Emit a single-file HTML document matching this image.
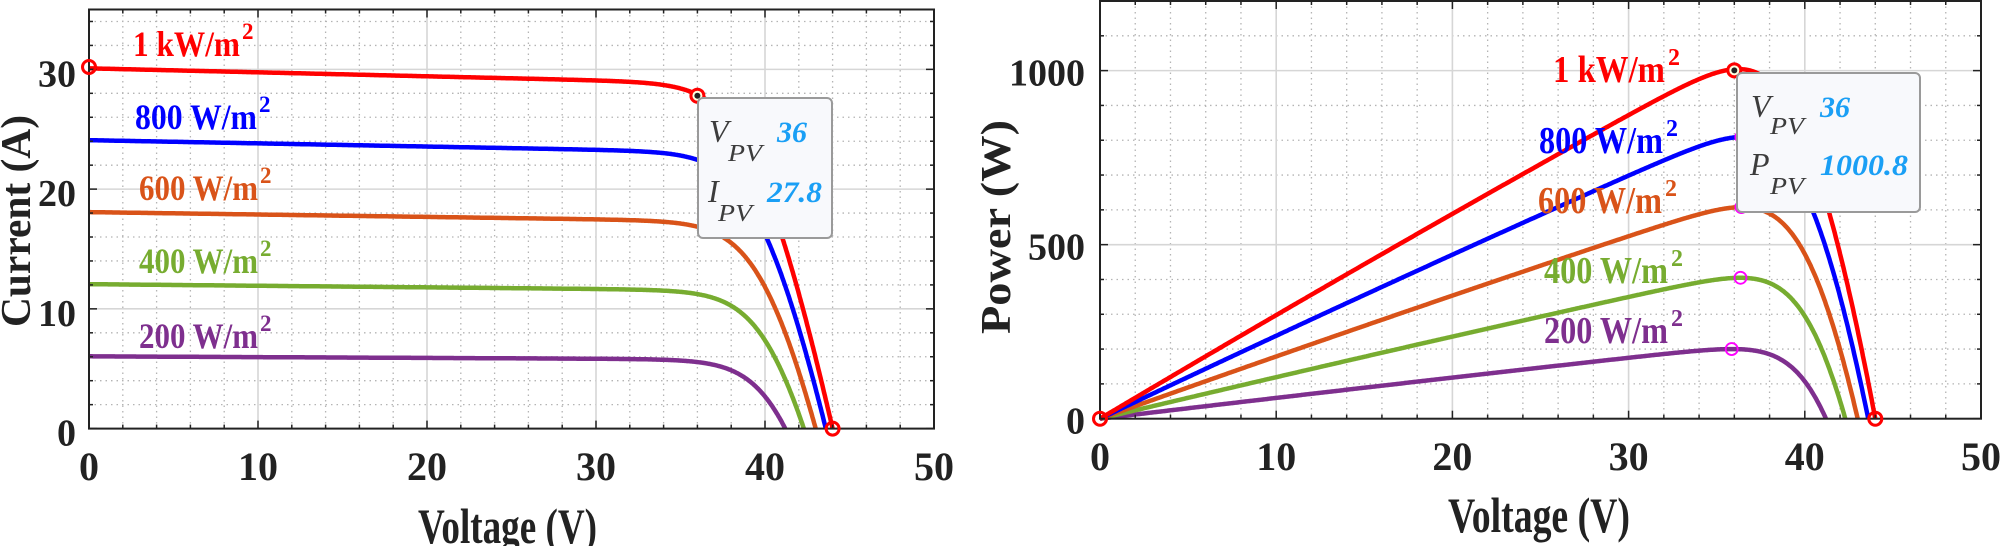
<!DOCTYPE html>
<html><head><meta charset="utf-8"><style>
html,body{margin:0;padding:0;background:#fff;}
svg{display:block;}
text{font-family:"Liberation Serif",serif;}
</style></head><body>
<svg id="s" width="2000" height="546" viewBox="0 0 2000 546" xmlns="http://www.w3.org/2000/svg"></svg>
<script>
var S=document.getElementById('s');var out='';
function line(x1,y1,x2,y2,st){out+='<line x1="'+x1+'" y1="'+y1+'" x2="'+x2+'" y2="'+y2+'" '+st+'/>';}
function txt(x,y,s,st){out+='<text x="'+x+'" y="'+y+'" '+st+'>'+s+'</text>';}
var Gs=[1,0.8,0.6,0.4,0.2],Vocs=[44,43.6,43,42.3,41.2];
var cols=['#ff0000','#0000ff','#d95319','#77ac30','#7e2f8e'];
var Vt=1.436,Rs=0.114;
function curve(k){var G=Gs[k],Isc=30.2*G,Rsh=30/G,Voc=Vocs[k];
 var I0=(Isc-Voc/Rsh)/(Math.exp(Voc/Vt)-1);var pts=[];
 for(var V=0;V<=Voc+1e-9;V+=0.05){var lo=-5,hi=Isc+1;
  for(var it=0;it<60;it++){var I=(lo+hi)/2;var vd=V+I*Rs;var f=Isc-I0*(Math.exp(vd/Vt)-1)-vd/Rsh-I;if(f>0)lo=I;else hi=I;}
  pts.push([V,Math.max(0,(lo+hi)/2)]);}
 pts.push([Voc,0]);return pts;}
var data=[];for(var k=0;k<5;k++)data.push(curve(k));
function axes(L,R,T,B,xmax,ymax,ymaj,ymin){
 var sx=function(v){return L+(R-L)*v/xmax},sy=function(v){return B-(B-T)*v/ymax};
 for(var v=0;v<=xmax;v+=2){var x=sx(v);if(v%10)line(x,T,x,B,'stroke="#b4b4b4" stroke-width="1.3" stroke-dasharray="1.5 4"');}
 for(var v=0;v<=ymax+1e-9;v+=ymin){var y=sy(v);if(Math.abs(v/ymaj-Math.round(v/ymaj))>1e-6)line(L,y,R,y,'stroke="#b4b4b4" stroke-width="1.3" stroke-dasharray="1.5 4"');}
 for(var v=10;v<xmax;v+=10){var x=sx(v);line(x,T,x,B,'stroke="#d6d6d6" stroke-width="1.6"');}
 for(var v=ymaj;v<ymax;v+=ymaj){var y=sy(v);line(L,y,R,y,'stroke="#d6d6d6" stroke-width="1.6"');}
 return [sx,sy];}
function frame(L,R,T,B,xmax,ymax,ymaj,ymin,sx,sy){
 for(var v=0;v<=xmax;v+=2){var x=sx(v),l=(v%10)?4:8;line(x,B,x,B-l,'stroke="#222" stroke-width="1.5"');line(x,T,x,T+l,'stroke="#222" stroke-width="1.5"');}
 for(var v=0;v<=ymax+1e-9;v+=ymin){var y=sy(v),mj=Math.abs(v/ymaj-Math.round(v/ymaj))<1e-6,l=mj?8:4;line(L,y,L+l,y,'stroke="#222" stroke-width="1.5"');line(R,y,R-l,y,'stroke="#222" stroke-width="1.5"');}
 out+='<rect x="'+L+'" y="'+T+'" width="'+(R-L)+'" height="'+(B-T)+'" fill="none" stroke="#222" stroke-width="2"/>';}
function poly(pts,sx,sy,f,c){var d='';pts.forEach(function(p,i){d+=(i?'L':'M')+sx(p[0]).toFixed(1)+' '+sy(f(p)).toFixed(1);});
 out+='<path d="'+d+'" fill="none" stroke="'+c+'" stroke-width="4.5" stroke-linejoin="round"/>';}
var B='font-weight="bold"';
var SUB='font-style="italic" font-size="24" fill="#3c3c3c" textLength="34" lengthAdjust="spacingAndGlyphs"';
/* LEFT */
var L1=89,R1=934,T1=9.5,B1=428.6;
var a=axes(L1,R1,T1,B1,50,35,10,2),sx=a[0],sy=a[1];
for(var k=4;k>=0;k--)poly(data[k],sx,sy,function(p){return p[1]},cols[k]);
frame(L1,R1,T1,B1,50,35,10,2,sx,sy);
out+='<circle cx="'+sx(0)+'" cy="'+sy(30.2)+'" r="6.5" fill="none" stroke="#f00" stroke-width="3"/>';
out+='<circle cx="'+sx(44)+'" cy="'+sy(0)+'" r="6.5" fill="none" stroke="#f00" stroke-width="3"/>';
out+='<circle cx="'+sx(36)+'" cy="'+sy(27.8)+'" r="6.5" fill="#ffffe0" stroke="#f00" stroke-width="3"/><circle cx="'+sx(36)+'" cy="'+sy(27.8)+'" r="3" fill="#222"/>';
out+='<rect x="698" y="98" width="134" height="140" rx="5" fill="#f8f9fc" stroke="#9a9a9a" stroke-width="2"/>';
txt(709,142,'V','font-style="italic" font-size="32" fill="#3c3c3c"');txt(728,161,'PV',SUB);
txt(777,142,'36','font-style="italic" '+B+' font-size="30" fill="#1a9ff5"');
txt(708,202,'I','font-style="italic" font-size="32" fill="#3c3c3c"');txt(718,221,'PV',SUB);
txt(767,202,'27.8','font-style="italic" '+B+' font-size="30" fill="#1a9ff5" textLength="55" lengthAdjust="spacingAndGlyphs"');
[0,10,20,30].forEach(function(v){txt(76,sy(v)+17,v,B+' font-size="38" fill="#222" text-anchor="end"');});
[0,10,20,30,40,50].forEach(function(v){txt(sx(v),480,v,B+' font-size="40" fill="#222" text-anchor="middle"');});
txt(418,543,'Voltage (V)',B+' font-size="50" fill="#222" textLength="179" lengthAdjust="spacingAndGlyphs"');
out+='<text transform="translate(30,327) rotate(-90)" '+B+' font-size="42" fill="#222" textLength="212" lengthAdjust="spacingAndGlyphs">Current (A)</text>';
var lab1=[['1 kW/m',133,56,107],['800 W/m',135,129,122],['600 W/m',139,200,119],['400 W/m',139,273,119],['200 W/m',139,348,119]];
lab1.forEach(function(l,k){txt(l[1],l[2],l[0],B+' font-size="36" fill="'+cols[k]+'" textLength="'+l[3]+'" lengthAdjust="spacingAndGlyphs"');txt(l[1]+l[3]+2,l[2]-17,'2',B+' font-size="23" fill="'+cols[k]+'"');});
/* RIGHT */
var L2=1100,R2=1981,T2=1,B2=418.7;
a=axes(L2,R2,T2,B2,50,1200,500,100);sx=a[0];sy=a[1];
for(var k=4;k>=0;k--)poly(data[k],sx,sy,function(p){return p[0]*p[1]},cols[k]);
frame(L2,R2,T2,B2,50,1200,500,100,sx,sy);
for(var k=1;k<5;k++){var best=[0,0];data[k].forEach(function(p){if(p[0]*p[1]>best[0]*best[1])best=p;});
 out+='<circle cx="'+sx(best[0])+'" cy="'+sy(best[0]*best[1])+'" r="6" fill="none" stroke="#ff00ff" stroke-width="1.8"/>';}
out+='<circle cx="'+sx(0)+'" cy="'+sy(0)+'" r="6.5" fill="none" stroke="#f00" stroke-width="3"/>';
out+='<circle cx="'+sx(44)+'" cy="'+sy(0)+'" r="6.5" fill="none" stroke="#f00" stroke-width="3"/>';
out+='<circle cx="'+sx(36)+'" cy="'+sy(1000.8)+'" r="6.5" fill="#ffffe0" stroke="#f00" stroke-width="3"/><circle cx="'+sx(36)+'" cy="'+sy(1000.8)+'" r="3" fill="#222"/>';
out+='<rect x="1737" y="73" width="183" height="139" rx="5" fill="#f8f9fc" stroke="#9a9a9a" stroke-width="2"/>';
txt(1751,117,'V','font-style="italic" font-size="32" fill="#3c3c3c"');txt(1770,134,'PV',SUB);
txt(1820,117,'36','font-style="italic" '+B+' font-size="30" fill="#1a9ff5"');
txt(1750,175,'P','font-style="italic" font-size="32" fill="#3c3c3c"');txt(1770,194,'PV',SUB);
txt(1820,175,'1000.8','font-style="italic" '+B+' font-size="30" fill="#1a9ff5" textLength="88" lengthAdjust="spacingAndGlyphs"');
[0,500,1000].forEach(function(v){txt(1085,sy(v)+15,v,B+' font-size="38" fill="#222" text-anchor="end"');});
[0,10,20,30,40,50].forEach(function(v){txt(sx(v),470,v,B+' font-size="40" fill="#222" text-anchor="middle"');});
txt(1448,532,'Voltage (V)',B+' font-size="50" fill="#222" textLength="182" lengthAdjust="spacingAndGlyphs"');
out+='<text transform="translate(1010,334) rotate(-90)" '+B+' font-size="42" fill="#222" textLength="214" lengthAdjust="spacingAndGlyphs">Power (W)</text>';
var lab2=[['1 kW/m',1553,82,112],['800 W/m',1539,153,124],['600 W/m',1538,213,124],['400 W/m',1544,283,124],['200 W/m',1544,343,124]];
lab2.forEach(function(l,k){txt(l[1],l[2],l[0],B+' font-size="38" fill="'+cols[k]+'" textLength="'+l[3]+'" lengthAdjust="spacingAndGlyphs"');txt(l[1]+l[3]+3,l[2]-17,'2',B+' font-size="24" fill="'+cols[k]+'"');});
S.innerHTML=out;
</script>
</body></html>
